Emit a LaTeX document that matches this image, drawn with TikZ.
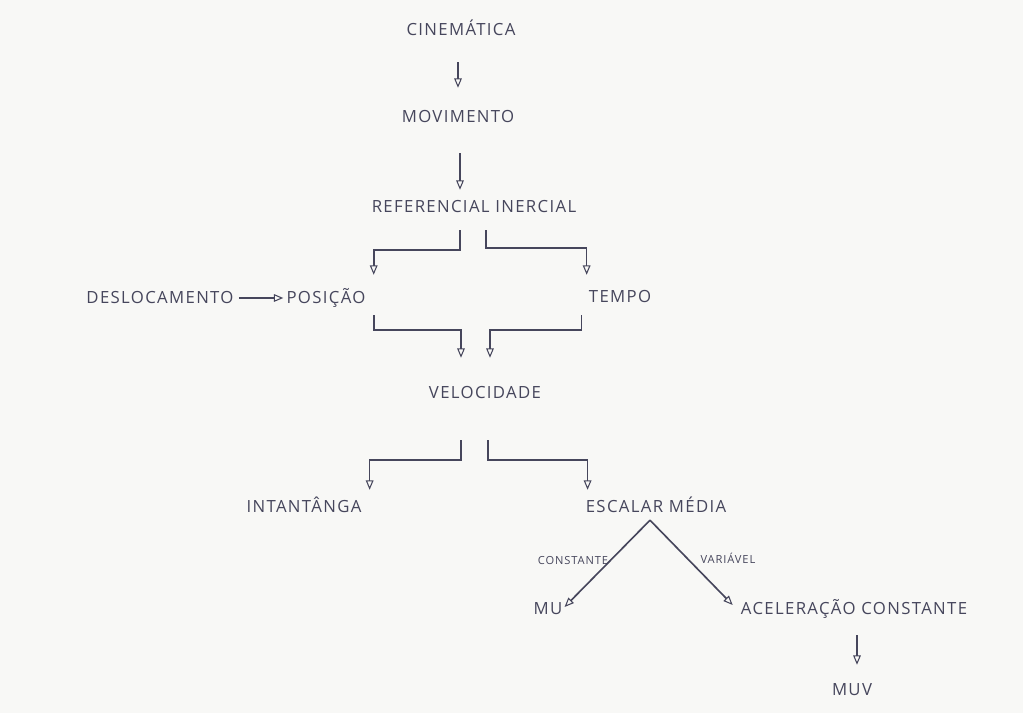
\documentclass[tikz,border=0pt]{standalone}
\usepackage{fontspec}
\setmainfont{Open Sans}
\newfontfamily\lblfont[LetterSpace=8]{Open Sans}
\usetikzlibrary{arrows.meta}
\definecolor{ink}{RGB}{70,70,92}
\definecolor{paper}{RGB}{248,248,246}
\tikzset{
  lbl/.style={font=\lblfont\fontsize{14.3}{16}\selectfont, text=ink, inner sep=0pt, text height=10.2pt, text depth=0pt},
  sml/.style={font=\lblfont\fontsize{9.5}{11}\selectfont, text=ink, inner sep=0pt, text height=6.8pt, text depth=0pt},
  arr/.style={draw=ink, line width=1.4pt, -{Triangle[open, length=8pt, width=6.5pt, line width=0.9pt]}}
}
\begin{document}
\begin{tikzpicture}[x=0.03cm, y=-0.03cm]
\fill[paper] (0,0) rectangle (1023,713);
\useasboundingbox (0,0) rectangle (1023,713);
\node[lbl] (cin) at (461,30) {CINEMÁTICA};
\node[lbl] (mov) at (458,117) {MOVIMENTO};
\node[lbl] (ref) at (474,207) {REFERENCIAL INERCIAL};
\node[lbl] (des) at (160,298) {DESLOCAMENTO};
\node[lbl] (pos) at (326,298) {POSIÇÃO};
\node[lbl] (tem) at (620,297) {TEMPO};
\node[lbl] (vel) at (485,393) {VELOCIDADE};
\node[lbl] (ins) at (304,507) {INTANTÂNGA};
\node[lbl] (esc) at (656,507) {ESCALAR MÉDIA};
\node[lbl] (mu) at (548,609) {MU};
\node[lbl] (ace) at (854,609) {ACELERAÇÃO CONSTANTE};
\node[lbl] (muv) at (852,690) {MUV};
\node[sml] (con) at (573,561) {CONSTANTE};
\node[sml] (var) at (728,560) {VARIÁVEL};
% vertical arrows
\draw[arr, shorten <=0.78cm, shorten >=0.69cm] (mov.north |- cin.south) -- (mov.north);
\draw[arr, shorten <=0.9cm, shorten >=0.33cm] ([xshift=0.06cm]mov.south) -- ([xshift=0.06cm]mov.south |- ref.north);
% referencial brackets
\draw[arr] ([xshift=-0.42cm, yshift=-0.51cm]ref.south) -- ++(0,20) -| ([xshift=0.24cm, yshift=0.51cm]pos.north east);
\draw[arr] ([xshift=0.36cm, yshift=-0.51cm]ref.south) -- ++(0,18) -| ([xshift=-0.06cm, yshift=0.48cm]tem.north west);
% deslocamento
\draw[arr, shorten <=0.15cm, shorten >=0.09cm] (des) -- (pos);
% into velocidade
\draw[arr] ([xshift=0.24cm, yshift=-0.33cm]pos.south east) -- ++(0,15) -| ([xshift=-0.72cm, yshift=0.87cm]vel.north);
\draw[arr] ([xshift=-0.21cm, yshift=-0.36cm]tem.south west) -- ++(0,15) -| ([xshift=0.15cm, yshift=0.87cm]vel.north);
% out of velocidade
\draw[arr] ([xshift=-0.72cm, yshift=-1.23cm]vel.south) -- ++(0,20) -| ([xshift=0.24cm, yshift=0.33cm]ins.north east);
\draw[arr] ([xshift=0.09cm, yshift=-1.23cm]vel.south) -- ++(0,20) -| ([xshift=0.06cm, yshift=0.33cm]esc.north west);
% escalar media branches
\draw[arr] ([xshift=-0.18cm, yshift=-0.21cm]esc.south) -- ([xshift=0.06cm, yshift=0.06cm]mu.east);
\draw[arr] ([xshift=-0.18cm, yshift=-0.21cm]esc.south) -- ([xshift=-0.24cm, yshift=0.12cm]ace.west);
% aceleracao -> muv
\draw[arr] ([xshift=0.09cm, yshift=-0.6cm]ace.south) -- ([xshift=0.15cm, yshift=0.57cm]muv.north);
\end{tikzpicture}
\end{document}
